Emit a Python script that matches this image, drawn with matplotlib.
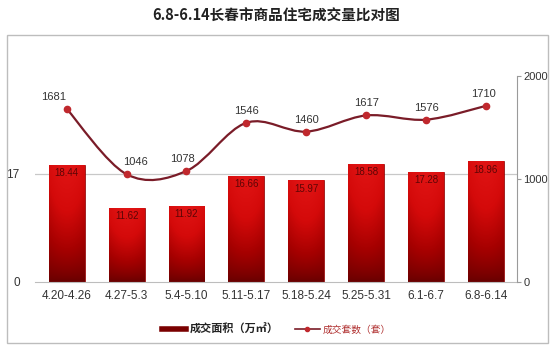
import matplotlib.pyplot as plt
import numpy as np
from matplotlib.path import Path
from matplotlib.patches import PathPatch, Rectangle
from matplotlib.lines import Line2D
from matplotlib.colors import LinearSegmentedColormap

plt.rcParams['font.family'] = ['Liberation Sans', 'Noto Sans CJK SC', 'DejaVu Sans']

weeks = ['4.20-4.26', '4.27-5.3', '5.4-5.10', '5.11-5.17', '5.18-5.24',
         '5.25-5.31', '6.1-6.7', '6.8-6.14']
area = [18.44, 11.62, 11.92, 16.66, 15.97, 18.58, 17.28, 18.96]
units = [1681, 1046, 1078, 1546, 1460, 1617, 1576, 1710]
title = '6.8-6.14长春市商品住宅成交量比对图'

fig = plt.figure(figsize=(5.53, 3.54), dpi=100)
fig.patch.set_facecolor('white')

# outer frame
fig.add_artist(Rectangle((7 / 553, 1 - 343 / 354), 541 / 553, 308 / 354,
                         transform=fig.transFigure, fill=False,
                         edgecolor='#bdbdbd', lw=1.0))
fig.text(0.5, 1 - 16 / 354, title, ha='center', va='center', fontsize=10.5,
         fontweight='bold', family=['Noto Sans CJK SC'], color='#222222')

ax = fig.add_axes([35 / 553, 1 - 282 / 354, 482 / 553, 206 / 354])
ax2 = ax.twinx()
x = np.arange(len(weeks))

# bars, shaded bright red at top to dark red at the base
bars = ax.bar(x, area, width=0.6, color='#c00000', edgecolor='#8a0000', lw=0.5, zorder=2)
hor = 1 - np.abs(np.linspace(-1, 1, 64)) ** 2 * 0.25
vert = np.linspace(0.0, 1.0, 48)[:, None] ** 0.8
shade = vert * hor[None, :]
cmap = LinearSegmentedColormap.from_list('r', ['#6a0000', '#a30000', '#d40a0a', '#e01414'])
for b in bars:
    x0, w, h = b.get_x(), b.get_width(), b.get_height()
    im = ax.imshow(shade, cmap=cmap, aspect='auto', vmin=0, vmax=1,
                   extent=(x0, x0 + w, 0, h), origin='lower', zorder=2.1,
                   interpolation='bilinear')
    im.set_clip_path(b)
for xi, v in zip(x, area):
    ax.text(xi, v - 0.5, f'{v:.2f}', ha='center', va='top', fontsize=7,
            color='#5e0505', zorder=5)

ax.axhline(17, color='#c8c8c8', lw=0.9, zorder=1)
ax.set_xlim(-0.53, 7.52)
ax.set_ylim(0, 32.4)
ax.set_yticks([0, 17])
ax.set_xticks(x)
ax.set_xticklabels(weeks)
ax.tick_params(axis='x', length=0, pad=6, labelsize=8.5, colors='#333333')
ax.tick_params(axis='y', length=0, pad=11, labelsize=8.5, colors='#333333')
for s in ['top', 'right', 'left']:
    ax.spines[s].set_visible(False)
ax.spines['bottom'].set_color('#bdbdbd')

# smooth line (catmull-rom as bezier path)
pts = np.column_stack([x, units]).astype(float)
verts = [pts[0]]
codes = [Path.MOVETO]
for i in range(len(pts) - 1):
    p0 = pts[i - 1] if i > 0 else pts[i]
    p1, p2 = pts[i], pts[i + 1]
    p3 = pts[i + 2] if i + 2 < len(pts) else pts[i + 1]
    c1 = p1 + (p2 - p0) / 6
    c2 = p2 - (p3 - p1) / 6
    verts += [c1, c2, p2]
    codes += [Path.CURVE4] * 3
ax2.add_patch(PathPatch(Path(verts, codes), fill=False, edgecolor='#7a1c28',
                        lw=1.6, zorder=3))
ax2.plot(x, units, 'o', color='#c0282d', ms=4.5, zorder=4)
# label nudges in pixels, as placed in the original
label_dx = [-13, 9, -4, 0, 0, 0, 0, -2]
for xi, v, dx in zip(x, units, label_dx):
    ax2.annotate(str(v), (xi, v), xytext=(dx, 7), textcoords='offset pixels',
                 ha='center', va='bottom', fontsize=8, color='#333333')
ax2.set_ylim(0, 2000)
ax2.set_yticks([0, 1000, 2000])
ax2.tick_params(axis='y', length=3, width=0.8, color='#9a9a9a', pad=1.5,
                labelsize=8, labelcolor='#333333')
for s in ['top', 'left', 'bottom']:
    ax2.spines[s].set_visible(False)
ax2.spines['right'].set_color('#9a9a9a')
ax.set_zorder(ax2.get_zorder() - 1)
ax2.patch.set_visible(False)

# legend
handles = [Line2D([], [], color='#7a0000', lw=4),
           Line2D([], [], color='#7a1c28', lw=1.2, marker='o', ms=3,
                  markerfacecolor='#c0282d', markeredgecolor='#c0282d')]
leg = fig.legend(handles, ['成交面积（万㎡）', '成交套数（套）'], loc='center',
                 bbox_to_anchor=(0.5, 1 - 329 / 354), ncol=2, frameon=False,
                 handlelength=2.2, columnspacing=1.5, handletextpad=0.3,
                 prop={'family': ['Noto Sans CJK SC'], 'size': 8})
t1, t2 = leg.get_texts()
t1.set_fontweight('bold')
t1.set_color('#222222')
t2.set_color('#b03030')
t2.set_fontsize(7)

fig.savefig('out.png', dpi=100)
